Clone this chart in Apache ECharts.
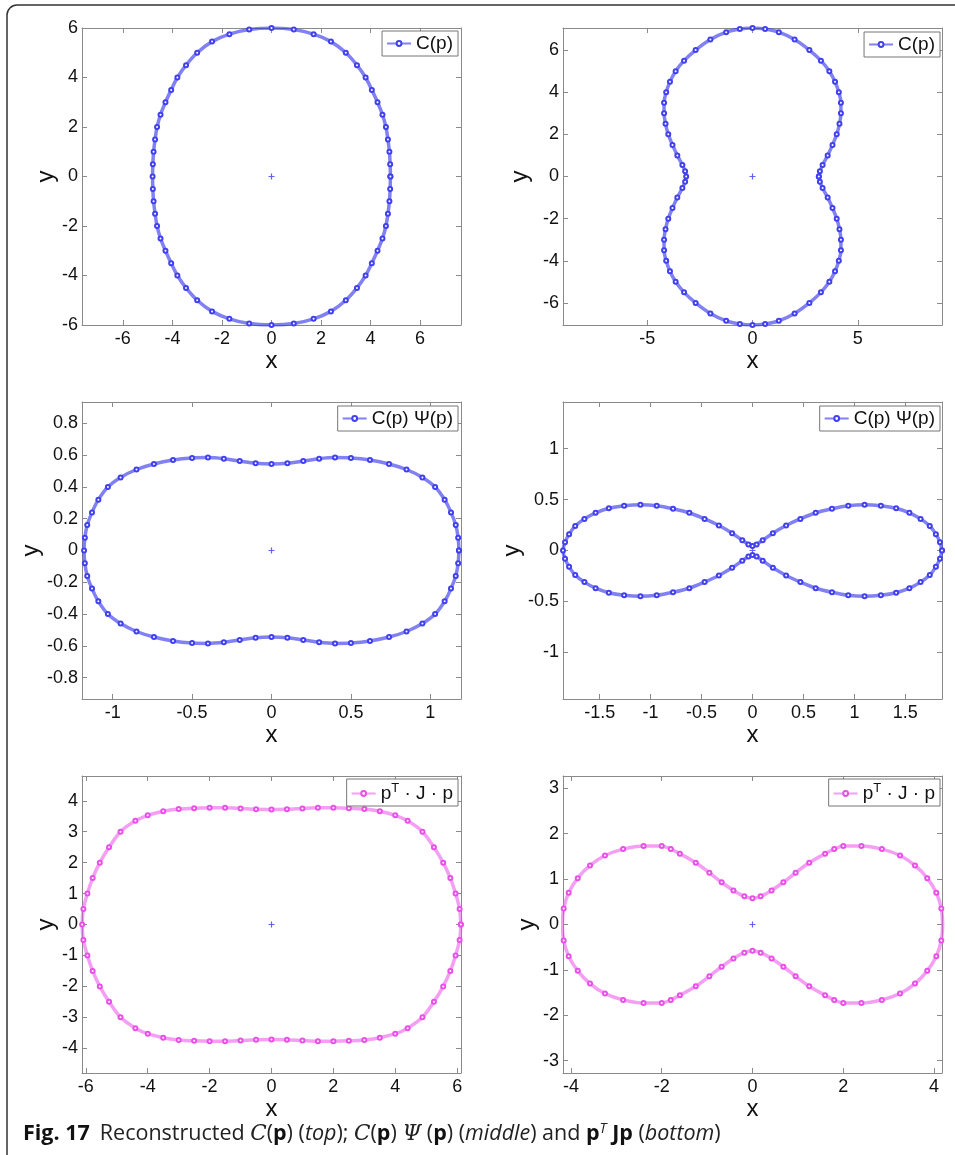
<!DOCTYPE html>
<html>
<head>
<meta charset="utf-8">
<script src="https://cdn.jsdelivr.net/npm/echarts@6/dist/echarts.min.js"></script>
<style>
  html, body { margin: 0; padding: 0; background: #fff; }
  #main { width: 955px; height: 1155px; }
</style>
</head>
<body>
<div id="main"></div>
<script>
// curve points, traced counter-clockwise from the +x side
const curveTopLeft = [
  [4.80, 0], [4.79, 0.5], [4.76, 1.0], [4.70, 1.5], [4.62, 2.0], [4.48, 2.5], [4.28, 3.0], [4.05, 3.5],
  [3.80, 4.0], [3.45, 4.5], [3.00, 5.0], [2.40, 5.45], [1.70, 5.75], [0.90, 5.94], [0, 6.0],
  [-0.90, 5.94], [-1.70, 5.75], [-2.40, 5.45], [-3.00, 5.0], [-3.45, 4.5], [-3.80, 4.0], [-4.05, 3.5],
  [-4.28, 3.0], [-4.48, 2.5], [-4.62, 2.0], [-4.70, 1.5], [-4.76, 1.0], [-4.79, 0.5], [-4.80, 0],
  [-4.79, -0.5], [-4.76, -1.0], [-4.70, -1.5], [-4.62, -2.0], [-4.48, -2.5], [-4.28, -3.0], [-4.05, -3.5],
  [-3.80, -4.0], [-3.45, -4.5], [-3.00, -5.0], [-2.40, -5.45], [-1.70, -5.75], [-0.90, -5.94], [0, -6.0],
  [0.90, -5.94], [1.70, -5.75], [2.40, -5.45], [3.00, -5.0], [3.45, -4.5], [3.80, -4.0], [4.05, -3.5],
  [4.28, -3.0], [4.48, -2.5], [4.62, -2.0], [4.70, -1.5], [4.76, -1.0], [4.79, -0.5], [4.80, 0]
];

const curveTopRight = [
  [3.15, 0], [3.20, 0.25], [3.33, 0.55], [3.57, 1.0], [3.80, 1.5], [4.00, 2.0], [4.13, 2.5], [4.20, 3.0],
  [4.20, 3.5], [4.10, 4.0], [3.92, 4.5], [3.65, 5.0], [3.25, 5.5], [2.70, 6.0], [2.00, 6.5], [1.25, 6.85],
  [0.60, 7.00], [0, 7.05],
  [-0.60, 7.00], [-1.25, 6.85], [-2.00, 6.5], [-2.70, 6.0], [-3.25, 5.5], [-3.65, 5.0], [-3.92, 4.5],
  [-4.10, 4.0], [-4.20, 3.5], [-4.20, 3.0], [-4.13, 2.5], [-4.00, 2.0], [-3.80, 1.5], [-3.57, 1.0],
  [-3.33, 0.55], [-3.20, 0.25], [-3.15, 0],
  [-3.20, -0.25], [-3.33, -0.55], [-3.57, -1.0], [-3.80, -1.5], [-4.00, -2.0], [-4.13, -2.5], [-4.20, -3.0],
  [-4.20, -3.5], [-4.10, -4.0], [-3.92, -4.5], [-3.65, -5.0], [-3.25, -5.5], [-2.70, -6.0], [-2.00, -6.5],
  [-1.25, -6.85], [-0.60, -7.00], [0, -7.05],
  [0.60, -7.00], [1.25, -6.85], [2.00, -6.5], [2.70, -6.0], [3.25, -5.5], [3.65, -5.0], [3.92, -4.5],
  [4.10, -4.0], [4.20, -3.5], [4.20, -3.0], [4.13, -2.5], [4.00, -2.0], [3.80, -1.5], [3.57, -1.0],
  [3.33, -0.55], [3.20, -0.25], [3.15, 0]
];

const curveMidLeft = [
  [1.18, 0], [1.175, 0.08], [1.16, 0.16], [1.13, 0.24], [1.09, 0.32], [1.03, 0.40], [0.95, 0.46],
  [0.85, 0.51], [0.74, 0.545], [0.62, 0.57], [0.50, 0.583], [0.40, 0.585], [0.30, 0.578], [0.20, 0.563],
  [0.10, 0.549], [0, 0.545],
  [-0.10, 0.549], [-0.20, 0.563], [-0.30, 0.578], [-0.40, 0.585], [-0.50, 0.583], [-0.62, 0.57],
  [-0.74, 0.545], [-0.85, 0.51], [-0.95, 0.46], [-1.03, 0.40], [-1.09, 0.32], [-1.13, 0.24], [-1.16, 0.16],
  [-1.175, 0.08], [-1.18, 0],
  [-1.175, -0.08], [-1.16, -0.16], [-1.13, -0.24], [-1.09, -0.32], [-1.03, -0.40], [-0.95, -0.46],
  [-0.85, -0.51], [-0.74, -0.545], [-0.62, -0.57], [-0.50, -0.583], [-0.40, -0.585], [-0.30, -0.578],
  [-0.20, -0.563], [-0.10, -0.549], [0, -0.545],
  [0.10, -0.549], [0.20, -0.563], [0.30, -0.578], [0.40, -0.585], [0.50, -0.583], [0.62, -0.57],
  [0.74, -0.545], [0.85, -0.51], [0.95, -0.46], [1.03, -0.40], [1.09, -0.32], [1.13, -0.24], [1.16, -0.16],
  [1.175, -0.08], [1.18, 0]
];

const curveMidRight = [
  [1.86, 0], [1.84, 0.08], [1.80, 0.16], [1.74, 0.24], [1.65, 0.31], [1.54, 0.37], [1.41, 0.415],
  [1.26, 0.44], [1.10, 0.45], [0.94, 0.44], [0.78, 0.41], [0.62, 0.37], [0.47, 0.31], [0.33, 0.245],
  [0.20, 0.17], [0.10, 0.10], [0.04, 0.06], [0, 0.045],
  [-0.04, 0.06], [-0.10, 0.10], [-0.20, 0.17], [-0.33, 0.245], [-0.47, 0.31], [-0.62, 0.37],
  [-0.78, 0.41], [-0.94, 0.44], [-1.10, 0.45], [-1.26, 0.44], [-1.41, 0.415], [-1.54, 0.37],
  [-1.65, 0.31], [-1.74, 0.24], [-1.80, 0.16], [-1.84, 0.08], [-1.86, 0],
  [-1.84, -0.08], [-1.80, -0.16], [-1.74, -0.24], [-1.65, -0.31], [-1.54, -0.37], [-1.41, -0.415],
  [-1.26, -0.44], [-1.10, -0.45], [-0.94, -0.44], [-0.78, -0.41], [-0.62, -0.37], [-0.47, -0.31],
  [-0.33, -0.245], [-0.20, -0.17], [-0.10, -0.10], [-0.04, -0.06], [0, -0.045],
  [0.04, -0.06], [0.10, -0.10], [0.20, -0.17], [0.33, -0.245], [0.47, -0.31], [0.62, -0.37],
  [0.78, -0.41], [0.94, -0.44], [1.10, -0.45], [1.26, -0.44], [1.41, -0.415], [1.54, -0.37],
  [1.65, -0.31], [1.74, -0.24], [1.80, -0.16], [1.84, -0.08], [1.86, 0]
];

const curveBottomLeft = [
  [6.12, 0], [6.08, 0.5], [5.95, 1.0], [5.78, 1.5], [5.55, 2.0], [5.25, 2.5], [4.88, 3.0], [4.40, 3.35],
  [4.00, 3.53], [3.50, 3.66], [3.00, 3.73], [2.50, 3.76], [2.00, 3.77], [1.50, 3.77], [1.00, 3.75],
  [0.50, 3.725], [0, 3.72],
  [-0.50, 3.725], [-1.00, 3.75], [-1.50, 3.77], [-2.00, 3.77], [-2.50, 3.76], [-3.00, 3.73], [-3.50, 3.66],
  [-4.00, 3.53], [-4.40, 3.35], [-4.88, 3.0], [-5.25, 2.5], [-5.55, 2.0], [-5.78, 1.5], [-5.95, 1.0],
  [-6.08, 0.5], [-6.12, 0],
  [-6.08, -0.5], [-5.95, -1.0], [-5.78, -1.5], [-5.55, -2.0], [-5.25, -2.5], [-4.88, -3.0], [-4.40, -3.35],
  [-4.00, -3.53], [-3.50, -3.66], [-3.00, -3.73], [-2.50, -3.76], [-2.00, -3.77], [-1.50, -3.77],
  [-1.00, -3.75], [-0.50, -3.725], [0, -3.72],
  [0.50, -3.725], [1.00, -3.75], [1.50, -3.77], [2.00, -3.77], [2.50, -3.76], [3.00, -3.73], [3.50, -3.66],
  [4.00, -3.53], [4.40, -3.35], [4.88, -3.0], [5.25, -2.5], [5.55, -2.0], [5.78, -1.5], [5.95, -1.0],
  [6.08, -0.5], [6.12, 0]
];

const curveBottomRight = [
  [4.19, 0], [4.16, 0.35], [4.05, 0.70], [3.85, 1.02], [3.58, 1.30], [3.25, 1.52], [2.85, 1.66],
  [2.40, 1.73], [2.00, 1.73], [1.80, 1.66], [1.60, 1.56], [1.25, 1.36], [0.95, 1.14], [0.68, 0.93],
  [0.42, 0.75], [0.18, 0.62], [0, 0.58],
  [-0.18, 0.62], [-0.42, 0.75], [-0.68, 0.93], [-0.95, 1.14], [-1.25, 1.36], [-1.60, 1.56], [-1.80, 1.66],
  [-2.00, 1.73], [-2.40, 1.73], [-2.85, 1.66], [-3.25, 1.52], [-3.58, 1.30], [-3.85, 1.02], [-4.05, 0.70],
  [-4.16, 0.35], [-4.19, 0],
  [-4.16, -0.35], [-4.05, -0.70], [-3.85, -1.02], [-3.58, -1.30], [-3.25, -1.52], [-2.85, -1.66],
  [-2.40, -1.73], [-2.00, -1.73], [-1.80, -1.66], [-1.60, -1.56], [-1.25, -1.36], [-0.95, -1.14],
  [-0.68, -0.93], [-0.42, -0.75], [-0.18, -0.62], [0, -0.58],
  [0.18, -0.62], [0.42, -0.75], [0.68, -0.93], [0.95, -1.14], [1.25, -1.36], [1.60, -1.56], [1.80, -1.66],
  [2.00, -1.73], [2.40, -1.73], [2.85, -1.66], [3.25, -1.52], [3.58, -1.30], [3.85, -1.02], [4.05, -0.70],
  [4.16, -0.35], [4.19, 0]
];

const origin = [[0, 0]];

// tick labels per panel
const xTicksTopLeft = [-6, -4, -2, 0, 2, 4, 6];
const yTicksTopLeft = [-6, -4, -2, 0, 2, 4, 6];
const xTicksTopRight = [-5, 0, 5];
const yTicksTopRight = [-6, -4, -2, 0, 2, 4, 6];
const xTicksMidLeft = [-1, -0.5, 0, 0.5, 1];
const yTicksMidLeft = [-0.8, -0.6, -0.4, -0.2, 0, 0.2, 0.4, 0.6, 0.8];
const xTicksMidRight = [-1.5, -1, -0.5, 0, 0.5, 1, 1.5];
const yTicksMidRight = [-1, -0.5, 0, 0.5, 1];
const xTicksBottomLeft = [-6, -4, -2, 0, 2, 4, 6];
const yTicksBottomLeft = [-4, -3, -2, -1, 0, 1, 2, 3, 4];
const xTicksBottomRight = [-4, -2, 0, 2, 4];
const yTicksBottomRight = [-3, -2, -1, 0, 1, 2, 3];

const legendNames = ['C(p)', 'C(p) \u03A8(p)', 'pT \u00B7 J \u00B7 p'];

const blue = { line: 'rgba(45,45,235,0.6)', mark: '#4040ee' };
const magenta = { line: 'rgba(235,80,235,0.55)', mark: '#e850e8' };

const panels = [
  { data: curveTopLeft, name: legendNames[0], c: blue, left: 82, top: 28, xr: 7.65, yr: 6,
    xt: xTicksTopLeft, yt: yTicksTopLeft, yGap: 21, lg: { right: 497, top: 31 } },
  { data: curveTopRight, name: legendNames[0], c: blue, left: 563, top: 28, xr: 9.0, yr: 7.05,
    xt: xTicksTopRight, yt: yTicksTopRight, yGap: 31, lg: { right: 15, top: 32 } },
  { data: curveMidLeft, name: legendNames[1], c: blue, left: 82, top: 402, xr: 1.193, yr: 0.935,
    xt: xTicksMidLeft, yt: yTicksMidLeft, yGap: 30, lg: { right: 497, top: 406 } },
  { data: curveMidRight, name: legendNames[1], c: blue, left: 563, top: 402, xr: 1.86, yr: 1.457,
    xt: xTicksMidRight, yt: yTicksMidRight, yGap: 30, lg: { right: 15, top: 406 } },
  { data: curveBottomLeft, name: legendNames[2], c: magenta, left: 82, top: 776, xr: 6.125, yr: 4.8,
    xt: xTicksBottomLeft, yt: yTicksBottomLeft, yGap: 16, lg: { right: 497, top: 779 } },
  { data: curveBottomRight, name: legendNames[2], c: magenta, left: 563, top: 776, xr: 4.175, yr: 3.27,
    xt: xTicksBottomRight, yt: yTicksBottomRight, yGap: 16, lg: { right: 15, top: 779 } }
];

const font = 'Liberation Sans';
const axisGrey = '#8a8a8a';

const grid = [], xAxis = [], yAxis = [], series = [], legend = [];

panels.forEach((p, i) => {
  grid.push({ left: p.left, top: p.top, width: 379, height: 297 });

  const tick = (vals) => ({ show: true, inside: true, length: 5, lineStyle: { color: axisGrey }, customValues: vals });
  const line = { show: true, onZero: false, lineStyle: { color: axisGrey, width: 1 } };

  xAxis.push({
    type: 'value', gridIndex: i, position: 'bottom', min: -p.xr, max: p.xr,
    axisLine: line, axisTick: tick(p.xt), splitLine: { show: false },
    axisLabel: { customValues: p.xt, margin: 5, fontSize: 18, color: '#111', fontFamily: font },
    name: 'x', nameLocation: 'middle', nameGap: 22,
    nameTextStyle: { fontSize: 24, color: '#111', fontFamily: font }
  });
  xAxis.push({
    type: 'value', gridIndex: i, position: 'top', min: -p.xr, max: p.xr,
    axisLine: line, axisTick: tick(p.xt), axisLabel: { show: false }, splitLine: { show: false }
  });
  yAxis.push({
    type: 'value', gridIndex: i, position: 'left', min: -p.yr, max: p.yr,
    axisLine: line, axisTick: tick(p.yt), splitLine: { show: false },
    axisLabel: { customValues: p.yt, margin: 4, fontSize: 18, color: '#111', fontFamily: font },
    name: 'y', nameLocation: 'middle', nameGap: p.yGap, nameRotate: 90,
    nameTextStyle: { fontSize: 24, color: '#111', fontFamily: font }
  });
  yAxis.push({
    type: 'value', gridIndex: i, position: 'right', min: -p.yr, max: p.yr,
    axisLine: line, axisTick: tick(p.yt), axisLabel: { show: false }, splitLine: { show: false }
  });

  series.push({
    name: p.name, type: 'line', xAxisIndex: 2 * i, yAxisIndex: 2 * i,
    data: p.data, smooth: 0.3, symbol: 'emptyCircle', symbolSize: 4,
    lineStyle: { color: p.c.line, width: 3.5 },
    itemStyle: { color: p.c.mark, borderWidth: 1 },
    emphasis: { disabled: true }, animation: false, z: 3
  });
  series.push({
    type: 'scatter', xAxisIndex: 2 * i, yAxisIndex: 2 * i, data: origin,
    symbol: 'path://M2,0h1v2h2v1h-2v2h-1v-2h-2v-1h2z', symbolSize: 6,
    itemStyle: { color: '#3a3af0' }, animation: false, silent: true
  });

  legend.push(Object.assign({
    data: [p.name], orient: 'horizontal', backgroundColor: '#fff',
    borderColor: '#777', borderWidth: 1, borderRadius: 0, padding: [3, 5, 3, 4],
    itemWidth: 24, itemHeight: 6, itemGap: 4, selectedMode: false,
    textStyle: {
      fontSize: 19, color: '#111', fontFamily: font,
      rich: {
        a: { fontSize: 19, fontFamily: font, color: '#111' },
        s: { fontSize: 13, fontFamily: font, color: '#111', padding: [0, 0, 10, 0] }
      }
    },
    formatter: (n) => n === legendNames[2] ? '{a|p}{s|T}{a| \u00B7 J \u00B7 p}' : n
  }, p.lg));
});

const captionFont = 'Open Sans';
const cs = 21.5;

const option = {
  backgroundColor: '#fff',
  animation: false,
  grid: grid,
  xAxis: xAxis,
  yAxis: yAxis,
  legend: legend,
  series: series,
  graphic: [
    {
      type: 'rect', shape: { x: 7, y: 5, width: 1000, height: 1170, r: 10 },
      style: { fill: 'none', stroke: '#333', lineWidth: 1.5 }, silent: true
    },
    {
      type: 'text', left: 23, top: 1122, silent: true,
      style: {
        text: '{b|Fig. 17}   {n|Reconstructed }{c|C}{n|(}{bp|p}{n|) (}{i|top}{n|); }{c|C}{n|(}{bp|p}{n|) }' +
              '{c|\u03A8}{n| (}{bp|p}{n|) (}{i|middle}{n|) and }{bp|p}{sup|T}{n| }{bp|Jp}{n| (}{i|bottom}{n|)}',
        rich: {
          b: { fontFamily: captionFont, fontWeight: 'bold', fontSize: cs, fill: '#111' },
          n: { fontFamily: captionFont, fontSize: cs, fill: '#222' },
          bp: { fontFamily: captionFont, fontWeight: 'bold', fontSize: cs, fill: '#111' },
          i: { fontFamily: captionFont, fontStyle: 'italic', fontSize: cs, fill: '#222' },
          c: { fontFamily: 'DejaVu Serif', fontStyle: 'italic', fontSize: cs, fill: '#222' },
          sup: { fontFamily: captionFont, fontStyle: 'italic', fontSize: 14, fill: '#222', padding: [0, 0, 10, 0] }
        }
      }
    }
  ]
};

const myChart = echarts.init(document.getElementById('main'), null, { renderer: 'canvas' });
myChart.setOption(option);
</script>
</body>
</html>
